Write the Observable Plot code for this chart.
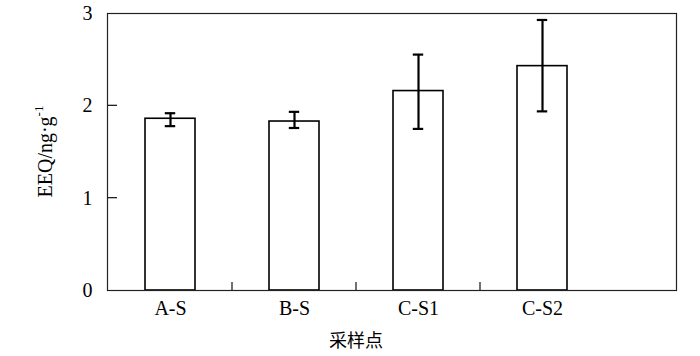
<!DOCTYPE html>
<html>
<head>
<meta charset="utf-8">
<script src="https://cdn.jsdelivr.net/npm/d3@7"></script>
<script src="https://cdn.jsdelivr.net/npm/@observablehq/plot@0.6"></script>
<style>
  html, body { margin: 0; padding: 0; background: #fff; }
  svg { font-family: "Liberation Serif", "Noto Sans CJK SC", serif; }
</style>
</head>
<body>
<div id="chart"></div>
<script>
const sites = ["A-S", "B-S", "C-S1", "C-S2"];
const means = [1.86, 1.83, 2.16, 2.43];
const lows  = [1.78, 1.76, 1.75, 1.94];
const highs = [1.92, 1.935, 2.555, 2.93];
const yTicks = [0, 1, 2, 3];
const yInnerTicks = [1, 2];
const yLabelMain = "EEQ/ng·g";
const yLabelSup = "-1";
const xLabel = "采样点";

const data = sites.map((s, i) => ({site: s, mean: means[i], lo: lows[i], hi: highs[i]}));

const fontFamily = '"Liberation Serif", "Noto Sans CJK SC", serif';

// Separator ticks between bands, inward y ticks and axis titles, placed from the scales
function decor(index, scales, values, dimensions) {
  const x = scales.x, y = scales.y;
  const step = x(sites[1]) - x(sites[0]);
  const bw = typeof x.bandwidth === "function" ? x.bandwidth() : (x.bandwidth ?? step * 0.4);
  const y0 = dimensions.height - dimensions.marginBottom;
  const xl = dimensions.marginLeft;
  const g = d3.create("svg:g");
  for (let i = 0; i < sites.length - 1; i++) {
    const xb = x(sites[i]) + bw / 2 + step / 2;
    g.append("line")
      .attr("x1", xb).attr("x2", xb)
      .attr("y1", y0).attr("y2", y0 - 8)
      .attr("stroke", "#222").attr("stroke-width", 1.3);
  }
  for (const t of yInnerTicks) {
    g.append("line")
      .attr("x1", xl).attr("x2", xl + 10)
      .attr("y1", y(t)).attr("y2", y(t))
      .attr("stroke", "#222").attr("stroke-width", 1.3);
  }
  const xc = (x(sites[0]) + x(sites[sites.length - 1]) + bw) / 2;
  g.append("text")
    .attr("x", xc).attr("y", y0 + 57)
    .attr("text-anchor", "middle")
    .attr("font-family", '"Noto Sans CJK SC", sans-serif')
    .attr("font-size", 18)
    .attr("fill", "#000")
    .text(xLabel);
  const yc = (y(0) + y(3)) / 2;
  const t = g.append("text")
    .attr("transform", `translate(${xl - 55},${yc}) rotate(-90)`)
    .attr("text-anchor", "middle")
    .attr("font-family", fontFamily)
    .attr("font-size", 20)
    .attr("fill", "#000");
  t.append("tspan").text(yLabelMain);
  t.append("tspan").attr("font-size", 13).attr("dy", -9).text(yLabelSup);
  return g.node();
}

const chart = Plot.plot({
  width: 700,
  height: 356,
  marginTop: 13,
  marginBottom: 66,
  marginLeft: 107,
  marginRight: 24,
  style: {fontFamily, fontSize: "20px", color: "#000", background: "#fff"},
  x: {domain: sites, range: [107, 604.6], paddingInner: 0.6, paddingOuter: 0.3},
  y: {domain: [0, 3]},
  marks: [
    Plot.barY(data, {x: "site", y: "mean", fill: "white", stroke: "#000", strokeWidth: 1.6}),
    Plot.ruleX(data, {x: "site", y1: "lo", y2: "hi", stroke: "#000", strokeWidth: 2.2}),
    Plot.tickY(data, {x: "site", y: "lo", stroke: "#000", strokeWidth: 2.2, insetLeft: 19.8, insetRight: 19.8}),
    Plot.tickY(data, {x: "site", y: "hi", stroke: "#000", strokeWidth: 2.2, insetLeft: 19.8, insetRight: 19.8}),
    Plot.frame({stroke: "#222", strokeWidth: 1.2}),
    Plot.axisY({ticks: yTicks, tickSize: 0, tickPadding: 15, tickFormat: d3.format("d"), label: null, fontSize: 20}),
    Plot.axisX({tickSize: 0, tickPadding: 10, label: null, fontSize: 20}),
    decor
  ]
});
document.getElementById("chart").appendChild(chart);
</script>
</body>
</html>
